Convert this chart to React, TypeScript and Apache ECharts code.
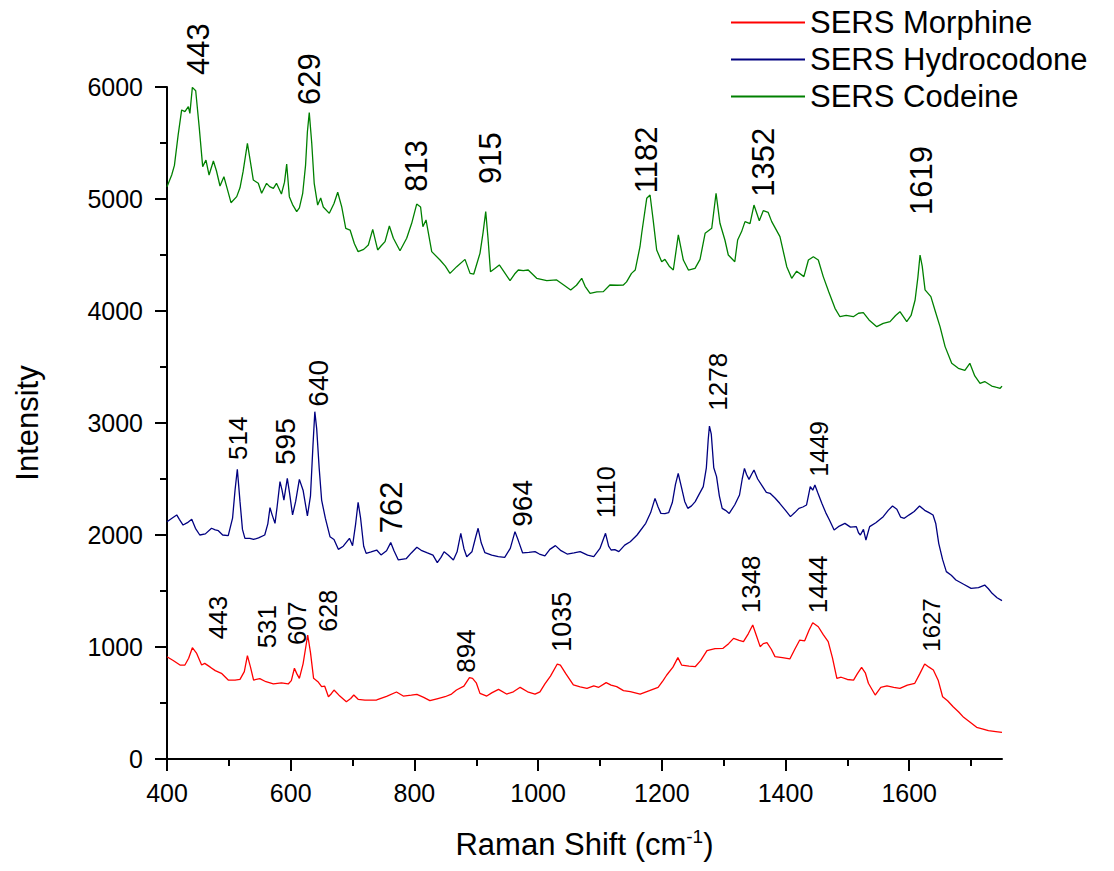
import React, { useEffect, useRef } from "react";
import * as echarts from "echarts";

const FONT = "'Liberation Sans', Arial, Helvetica, sans-serif";

const seriesNames = ["SERS Morphine", "SERS Hydrocodone", "SERS Codeine"];
const seriesColors = ["#ff0000", "#000080", "#008000"];

const xRange = { min: 400, max: 1750 };
const xMajorTicks = [400, 600, 800, 1000, 1200, 1400, 1600];
const xMinorTicks = [500, 700, 900, 1100, 1300, 1500, 1700];
const yTicks = { min: 0, max: 6000, interval: 1000 };

const morphine: number[][] = [
  [400,913],[410,880],[421,839],[429,839],[435,900],[441,994],[448,943],[456,839],[461,854],[470,820],[478,789],[488,765],[499,705],[510,705],[518,711],[525,780],[530,923],[535,820],[540,705],[550,717],[560,690],[572,670],[585,680],[596,670],[601,700],[606,810],[610,760],[614,720],[620,850],[627.5,1107],[632,950],[637,720],[644,690],[650,646],[655,650],[661,556],[666,585],[670,616],[678,570],[690,512],[697,540],[702,571],[709,533],[720,525],[739,527],[755,560],[771,598],[782,562],[795,570],[804,577],[815,550],[825,521],[838,540],[849.5,556],[860,580],[868,616],[880,650],[889,726],[894,720],[900,680],[906,586],[917,562],[925,590],[936,622],[949,580],[960,600],[971,640],[983,600],[995,580],[1003,600],[1011,670],[1020,740],[1031,848],[1036,839],[1045,760],[1057,661],[1068,645],[1079,631],[1090,652],[1098,640],[1110,682],[1118,660],[1127,646],[1138,610],[1149,601],[1165,580],[1180,610],[1194,640],[1202,700],[1208,750],[1218,820],[1226,905],[1232,839],[1244,830],[1254,824],[1263,880],[1273,967],[1286,985],[1299,988],[1308,1030],[1316,1077],[1325,1060],[1332,1048],[1340,1120],[1347,1196],[1353,1100],[1359,1003],[1364,1030],[1370,1039],[1377,980],[1383,914],[1395,905],[1407,893],[1415,980],[1423,1062],[1431,1055],[1438,1150],[1444,1217],[1453,1181],[1461,1110],[1469,1048],[1476,900],[1483,720],[1490,730],[1500,710],[1510,705],[1516,760],[1523,818],[1529,770],[1534,676],[1545,571],[1554,640],[1564,652],[1575,640],[1585,631],[1597,660],[1609,676],[1617,760],[1625,848],[1632,820],[1639,795],[1647,700],[1654,556],[1662,520],[1671,467],[1680,420],[1688,372],[1698,330],[1709,283],[1718,270],[1728,253],[1740,245],[1750,238]
];

const hydrocodone: number[][] = [
  [400,2119],[408,2150],[415.7,2179],[420,2140],[426,2089],[433,2110],[440,2140],[446,2060],[453,2000],[462,2010],[472,2060],[478,2045],[483,2038],[490,2000],[499,1994],[506,2150],[510,2400],[513.7,2587],[518,2300],[522,2050],[526,1970],[534,1970],[540,1960],[548,1975],[558,2000],[563,2100],[566.5,2244],[570,2180],[574.6,2104],[578,2250],[582.7,2476],[586,2400],[589,2312],[594.5,2506],[598,2380],[603,2179],[608,2300],[614,2497],[620,2400],[627,2170],[632,2350],[636,2800],[639,3101],[642,2950],[646,2600],[650,2312],[656,2150],[663.5,1985],[670,1960],[677,1872],[685,1900],[695,1970],[700,1905],[705,2100],[709,2292],[713,2150],[718,1900],[722,1836],[730,1850],[739,1866],[746,1822],[755,1860],[761.7,1932],[767,1860],[774,1777],[787,1790],[795,1840],[804,1890],[812,1860],[820,1842],[830,1820],[837,1753],[843,1800],[848,1851],[855,1820],[863,1777],[869,1850],[875,2015],[880,1880],[884.6,1806],[893,1850],[899,1980],[903,2060],[908,1930],[914,1842],[925,1820],[935.6,1806],[946,1800],[955,1880],[962.6,2030],[968,1950],[975,1840],[985,1845],[995,1851],[1002,1830],[1011,1813],[1019,1872],[1028,1905],[1037,1860],[1047,1830],[1058,1840],[1068,1851],[1080,1820],[1090,1806],[1100,1880],[1109,2015],[1114,1900],[1118,1866],[1124,1870],[1130.5,1851],[1140,1910],[1149,1940],[1160,2000],[1174,2104],[1182,2200],[1189,2327],[1194,2250],[1198.5,2193],[1205,2190],[1211,2199],[1217,2290],[1222,2450],[1226.5,2551],[1232,2420],[1237,2300],[1242,2238],[1248,2260],[1254,2298],[1260,2360],[1267,2432],[1272,2600],[1275,2850],[1277,2973],[1280,2900],[1284,2600],[1288.5,2521],[1293,2350],[1297.6,2238],[1303,2220],[1309,2193],[1318,2270],[1325.6,2357],[1330,2500],[1333.6,2595],[1337,2540],[1341,2497],[1345,2540],[1349,2580],[1355,2500],[1363,2432],[1369,2380],[1375,2372],[1383,2330],[1390.6,2283],[1400,2220],[1408,2164],[1415,2200],[1421.7,2238],[1428,2250],[1434,2268],[1437,2350],[1440,2432],[1444,2400],[1447.5,2446],[1452,2380],[1458.7,2283],[1465,2200],[1471,2134],[1478.6,2045],[1487,2080],[1496,2104],[1505,2070],[1514.5,2075],[1518,2020],[1521,2000],[1526,2050],[1530,1955],[1536,2075],[1546,2110],[1558,2164],[1566,2220],[1573,2259],[1580,2230],[1586,2160],[1592,2149],[1600,2180],[1608,2210],[1616.7,2259],[1625,2220],[1632,2200],[1638.5,2179],[1643,2100],[1647.7,1926],[1654,1780],[1660,1673],[1668,1640],[1675.5,1598],[1688,1560],[1700,1524],[1712,1530],[1722,1553],[1728,1520],[1734,1479],[1742,1440],[1750,1414]
];

const codeine: number[][] = [
  [400,5110],[407.6,5214],[412,5300],[418,5571],[423.7,5795],[429,5780],[434.5,5824],[437,5765],[441,5997],[446.4,5967],[452,5646],[457.7,5289],[463,5348],[468,5214],[475,5339],[480,5250],[485.7,5116],[492,5199],[497,5100],[503.5,4967],[512.7,5021],[518,5100],[523,5244],[530,5497],[533.5,5378],[539.5,5170],[547.6,5140],[553,5051],[561,5140],[566,5110],[572,5095],[577,5140],[585,5045],[590,5150],[593.5,5312],[597.8,5021],[603,4950],[609.7,4887],[614,4920],[619.4,5051],[624,5300],[627,5600],[630,5771],[634,5500],[638,5140],[643.6,4946],[648.5,5009],[652.7,4929],[662.4,4872],[670,4960],[676,5060],[682.5,4929],[689,4738],[696,4723],[703,4600],[709,4530],[718,4550],[725.5,4589],[732.6,4729],[740.6,4545],[746,4580],[752.5,4619],[759.5,4759],[766,4649],[776.7,4538],[787.5,4649],[795.6,4783],[803.7,4955],[810,4929],[813.7,4753],[818.8,4813],[828,4530],[841.4,4455],[850,4400],[857.5,4336],[868.4,4396],[881.8,4461],[890,4336],[896,4330],[906,4515],[911,4700],[915.3,4887],[919,4650],[923,4351],[930,4380],[937.3,4411],[945,4350],[954.6,4271],[962,4330],[968,4366],[976,4360],[984,4366],[997.7,4292],[1014,4271],[1030,4277],[1042,4230],[1052.7,4188],[1062,4230],[1070.5,4292],[1076,4220],[1084,4158],[1095,4170],[1105.5,4173],[1116,4232],[1128,4230],[1137.8,4232],[1143,4260],[1151,4336],[1157,4366],[1164.7,4574],[1167.5,4694],[1175.6,5006],[1181,5036],[1186,4813],[1191.7,4545],[1199.8,4440],[1205,4461],[1212,4400],[1218.6,4366],[1226.7,4679],[1234.8,4455],[1243,4366],[1253.7,4381],[1261.8,4461],[1270,4694],[1280.7,4738],[1287.7,5051],[1294,4783],[1302,4634],[1307.5,4500],[1318,4440],[1322.6,4634],[1329,4709],[1334.5,4798],[1342.6,4780],[1349,4946],[1357.6,4806],[1364,4896],[1372,4880],[1377.7,4798],[1391,4664],[1402,4396],[1410,4292],[1418,4355],[1429.7,4307],[1437,4455],[1445,4485],[1453,4455],[1461,4307],[1470,4170],[1480,4024],[1488,3949],[1498,3960],[1509.6,3949],[1518,3980],[1525.8,3985],[1535,3920],[1547.5,3860],[1558,3890],[1569,3905],[1578,3960],[1585,3994],[1596,3905],[1603,3960],[1609.5,4098],[1614,4300],[1617.5,4500],[1621,4400],[1625.6,4188],[1635,4128],[1642,4000],[1649.8,3860],[1658,3682],[1668.7,3533],[1679.4,3488],[1690,3470],[1698,3533],[1706,3420],[1714.5,3354],[1722,3370],[1733.4,3330],[1740,3320],[1747,3310],[1750,3330]
];

// peak annotations: [text, shift, intensity where the label starts, font size]
const codeinePeaks: [string, number, number, number][] = [
  ["443", 451, 6107, 31], ["629", 630, 5839, 31], ["813", 804, 5065, 31], ["915", 923, 5134, 31],
  ["1182", 1176, 5051, 31], ["1352", 1364, 5021, 31], ["1619", 1620, 4857, 31],
];
const hydrocodonePeaks: [string, number, number, number][] = [
  ["514", 514, 2670, 26], ["595", 592, 2625, 28], ["640", 645, 3146, 28], ["762", 763, 2015, 31],
  ["964", 975, 2074, 28], ["1110", 1109, 2149, 25], ["1278", 1291, 3110, 26], ["1449", 1454, 2521, 25],
];
const morphinePeaks: [string, number, number, number][] = [
  ["443", 483, 1069, 26], ["531", 562, 988, 26], ["607", 610, 1018, 26], ["628", 660, 1137, 25],
  ["894", 884, 771, 26], ["1035", 1038, 958, 27], ["1348", 1344, 1301, 26], ["1444", 1452, 1301, 26],
  ["1627", 1636, 958, 24],
];

function peakSeries(peaks: [string, number, number, number][]) {
  return {
    type: "scatter",
    silent: true,
    clip: false,
    symbolSize: 0,
    z: 10,
    itemStyle: { opacity: 1 },
    data: peaks.map(([text, x, y, size]) => ({
      value: [x, y],
      label: {
        show: true,
        formatter: text,
        fontSize: size,
        color: "#000",
        opacity: 1,
        fontFamily: FONT,
      },
    })),
    label: {
      show: true,
      position: "inside",
      rotate: 90,
      align: "left",
      verticalAlign: "middle",
      color: "#000",
      opacity: 1,
      fontFamily: FONT,
    },
  };
}

const plain = (v: number) => String(v);

export default function App() {
  const ref = useRef<HTMLDivElement>(null);
  useEffect(() => {
    document.body.style.margin = "0";
    if (!ref.current) return;
    const chart = echarts.init(ref.current, null, { renderer: "svg" });
    const spectra = [morphine, hydrocodone, codeine];
    chart.setOption({
      animation: false,
      backgroundColor: "#fff",
      textStyle: { fontFamily: FONT, color: "#000" },
      grid: { left: 167, right: 112, top: 87, bottom: 112 },
      legend: {
        data: seriesNames,
        orient: "vertical",
        left: 726,
        top: 2,
        icon: "rect",
        itemWidth: 74,
        itemHeight: 2,
        itemGap: 6,
        textStyle: { fontSize: 31, color: "#000", fontFamily: FONT },
      },
      xAxis: [
        {
          type: "value",
          position: "bottom",
          min: xRange.min,
          max: xRange.max,
          name: "{a|Raman Shift (cm}{s|-1}{a|)}",
          nameLocation: "middle",
          nameGap: 68,
          nameTextStyle: {
            rich: {
              a: { fontSize: 31, color: "#000", fontFamily: FONT },
              s: { fontSize: 19, color: "#000", fontFamily: FONT, verticalAlign: "top", padding: [0, 0, 16, 0] },
            },
          },
          axisLine: { lineStyle: { color: "#000", width: 2 } },
          axisTick: { customValues: xMajorTicks, length: 12, lineStyle: { color: "#000", width: 2 } },
          minorTick: { show: false },
          axisLabel: { customValues: xMajorTicks, formatter: plain, fontSize: 25, color: "#000", margin: 21, fontFamily: FONT },
          splitLine: { show: false },
        },
        {
          type: "value",
          position: "bottom",
          min: xRange.min,
          max: xRange.max,
          axisLine: { show: false },
          axisTick: { show: true, customValues: xMinorTicks, length: 7, lineStyle: { color: "#000", width: 2 } },
          axisLabel: { show: false },
          splitLine: { show: false },
        },
      ],
      yAxis: {
        type: "value",
        min: yTicks.min,
        max: yTicks.max,
        interval: yTicks.interval,
        name: "Intensity",
        nameLocation: "middle",
        nameGap: 124,
        nameTextStyle: { fontSize: 31, color: "#000", fontFamily: FONT },
        axisLine: { show: true, lineStyle: { color: "#000", width: 2 } },
        axisTick: { show: true, length: 12, lineStyle: { color: "#000", width: 2 } },
        minorTick: { show: true, splitNumber: 2, length: 7, lineStyle: { color: "#000", width: 2 } },
        axisLabel: { formatter: plain, fontSize: 25, color: "#000", margin: 24, fontFamily: FONT },
        splitLine: { show: false },
      },
      series: [
        ...spectra.map((d, i) => ({
          name: seriesNames[i],
          type: "line",
          data: d,
          symbol: "none",
          color: seriesColors[i],
          lineStyle: { color: seriesColors[i], width: 1.3 },
        })),
        peakSeries(morphinePeaks),
        peakSeries(hydrocodonePeaks),
        peakSeries(codeinePeaks),
      ],
    });
    return () => chart.dispose();
  }, []);
  return <div ref={ref} style={{ width: 1114, height: 871 }} />;
}
